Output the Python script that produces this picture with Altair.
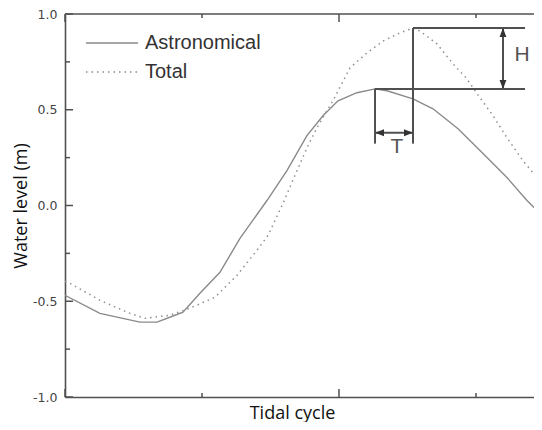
import altair as alt
import pandas as pd

# ---- data ----
astro_x = [0.000, 0.255, 0.547, 0.672, 0.803, 0.861, 0.985, 1.131, 1.277, 1.474,
           1.620, 1.766, 1.883, 1.993, 2.131, 2.263, 2.350, 2.540, 2.686, 2.869,
           3.051, 3.226, 3.372, 3.482]
astro_y = [-0.469, -0.563, -0.609, -0.609, -0.573, -0.557, -0.458, -0.349, -0.172, 0.026,
           0.182, 0.365, 0.469, 0.547, 0.589, 0.609, 0.599, 0.557, 0.505, 0.401,
           0.271, 0.146, 0.026, -0.052]

total_x = [0.000, 0.036, 0.255, 0.474, 0.584, 0.766, 0.912, 1.095, 1.255, 1.401,
           1.482, 1.591, 1.693, 1.774, 1.839, 1.898, 1.956, 2.080, 2.204, 2.321,
           2.445, 2.540, 2.591, 2.715, 2.832, 2.934, 3.029, 3.124, 3.226, 3.343,
           3.445, 3.482]
total_y = [-0.396, -0.406, -0.495, -0.563, -0.589, -0.573, -0.536, -0.479, -0.365, -0.234,
           -0.156, 0.010, 0.182, 0.313, 0.406, 0.479, 0.547, 0.719, 0.797, 0.859,
           0.901, 0.927, 0.911, 0.844, 0.740, 0.661, 0.563, 0.469, 0.354, 0.234,
           0.146, 0.115]

series_names = ["Astronomical", "Total"]
y_tick_values = [-1.0, -0.5, 0.0, 0.5, 1.0]
y_minor_ticks = [-0.75, -0.25, 0.25, 0.75]
x_major_ticks = [0, 2]
x_minor_ticks = [1, 3]

# annotation construction (data units)
ann_right = 3.358     # right end of the two horizontal lines
ann_bottom = 0.323    # bottom of the two vertical lines
t_arrow_y = 0.380     # level of the T double arrow
h_arrow_x = 3.197     # position of the H double arrow
t_label = ("T", 2.423, 0.307)
h_label = ("H", 3.336, 0.784)

W, H = 469, 383
X_MAX = W / 137.0

# ---- derived tables ----
ia = max(range(len(astro_y)), key=lambda i: astro_y[i])
it = max(range(len(total_y)), key=lambda i: total_y[i])
xa, va = astro_x[ia], astro_y[ia]
xt, vt = total_x[it], total_y[it]

astro_df = pd.DataFrame({"x": astro_x, "y": astro_y})
total_df = pd.DataFrame({"x": total_x, "y": total_y})

seg_df = pd.DataFrame({
    "x":  [xt, xa, xa, xt, xa, h_arrow_x],
    "x2": [ann_right, ann_right, xa, xt, xt, h_arrow_x],
    "y":  [vt, va, va, vt, t_arrow_y, vt],
    "y2": [vt, va, ann_bottom, ann_bottom, t_arrow_y, va],
})

LEFT = "M0,0L1,-0.38L1,0.38Z"
RIGHT = "M0,0L-1,-0.38L-1,0.38Z"
UP = "M0,0L-0.38,1L0.38,1Z"
DOWN = "M0,0L-0.38,-1L0.38,-1Z"
head_df = pd.DataFrame({
    "x": [xa, xt, h_arrow_x, h_arrow_x],
    "y": [t_arrow_y, t_arrow_y, vt, va],
    "shape": [LEFT, RIGHT, UP, DOWN],
})
label_df = pd.DataFrame({"t": [t_label[0], h_label[0]],
                         "x": [t_label[1], h_label[1]],
                         "y": [t_label[2], h_label[2]]})

xs = alt.Scale(domain=[0, X_MAX], nice=False, zero=False)
ys = alt.Scale(domain=[-1, 1], nice=False, zero=False)

AX = "#505050"
LINE = "#8a8a8a"

x_axis = alt.Axis(labels=False, ticks=False, grid=False, domainColor=AX, domainWidth=1.6,
                  title="Tidal cycle", titleFont="Open Sans", titleFontSize=18,
                  titleFontWeight="normal", titleColor="#111", titleX=227, titleY=21,
                  titleBaseline="alphabetic")
y_axis = alt.Axis(values=y_tick_values, ticks=False, grid=False, domainColor=AX, domainWidth=1.6,
                  labelExpr="datum.value < 0 ? '-' + format(-datum.value, '.1f') : format(datum.value, '.1f')",
                  labelFont="DejaVu Sans", labelFontSize=12.5, labelColor="#444", labelPadding=8,
                  title="Water level (m)", titleFont="Open Sans", titleFontSize=18,
                  titleFontWeight="normal", titleColor="#111", titleX=-44, titleY=H / 2,
                  titleBaseline="middle", titleAngle=-90)


def X(field):
    return alt.X(field, scale=xs, axis=x_axis)


def Y(field):
    return alt.Y(field, scale=ys, axis=y_axis)


astro_line = alt.Chart(astro_df).mark_line(color=LINE, strokeWidth=1.4, clip=True).encode(
    x=X("x:Q"), y=Y("y:Q"), order="x:Q",
)
total_line = alt.Chart(total_df).mark_line(color="#8f8f8f", strokeWidth=1.5,
                                           strokeDash=[1.5, 4], clip=True).encode(
    x=X("x:Q"), y=Y("y:Q"), order="x:Q",
)

segs = alt.Chart(seg_df).mark_rule(color=AX, strokeWidth=2).encode(
    x=X("x:Q"), x2="x2:Q", y=Y("y:Q"), y2="y2:Q",
)
heads = alt.Chart(head_df).mark_point(filled=True, color="#333", opacity=1, size=324).encode(
    x=X("x:Q"), y=Y("y:Q"), shape=alt.Shape("shape:N", scale=None),
)
labels = alt.Chart(label_df).mark_text(font="Liberation Sans", fontSize=21, color="#555",
                                        align="center", baseline="middle").encode(
    x=X("x:Q"), y=Y("y:Q"), text="t:N",
)

top_frame = alt.Chart(pd.DataFrame({"y": [1.0]})).mark_rule(color=AX, strokeWidth=1.6).encode(
    y=Y("y:Q")
)


def yticks(vals, length):
    return alt.Chart(pd.DataFrame({"v": vals})).mark_rule(color=AX, strokeWidth=1.5).encode(
        y=Y("v:Q"), x=alt.value(0), x2=alt.value(length))


def xticks(vals, length):
    d = pd.DataFrame({"v": vals})
    bottom = alt.Chart(d).mark_rule(color=AX, strokeWidth=1.5).encode(
        x=X("v:Q"), y=alt.value(H), y2=alt.value(H - length))
    top = alt.Chart(d).mark_rule(color=AX, strokeWidth=1.5).encode(
        x=X("v:Q"), y=alt.value(0), y2=alt.value(length))
    return bottom + top


legend_layers = []
dashes = [[1, 0], [1.5, 4]]
for i, name in enumerate(series_names):
    ly = 29 + 29 * i
    d = pd.DataFrame({"label": [name]})
    legend_layers.append(
        alt.Chart(d).mark_rule(color=LINE, strokeWidth=1.5, strokeDash=dashes[i]).encode(
            x=alt.value(21), x2=alt.value(73), y=alt.value(ly)))
    legend_layers.append(
        alt.Chart(d).mark_text(font="Liberation Sans", fontSize=20, color="#333",
                               align="left", baseline="middle").encode(
            x=alt.value(80), y=alt.value(ly), text="label:N"))

chart = alt.layer(
    astro_line, total_line, segs, heads, labels, top_frame,
    yticks(y_tick_values, 8), yticks(y_minor_ticks, 5),
    xticks(x_major_ticks, 8), xticks(x_minor_ticks, 4),
    *legend_layers,
).properties(
    width=W, height=H,
    autosize=alt.AutoSizeParams(type="none"),
    padding={"left": 57, "top": 6, "right": 0, "bottom": 25},
    background="white",
).configure_view(stroke=None)

chart.save("out.html", embed_options={"renderer": "svg", "actions": False})
